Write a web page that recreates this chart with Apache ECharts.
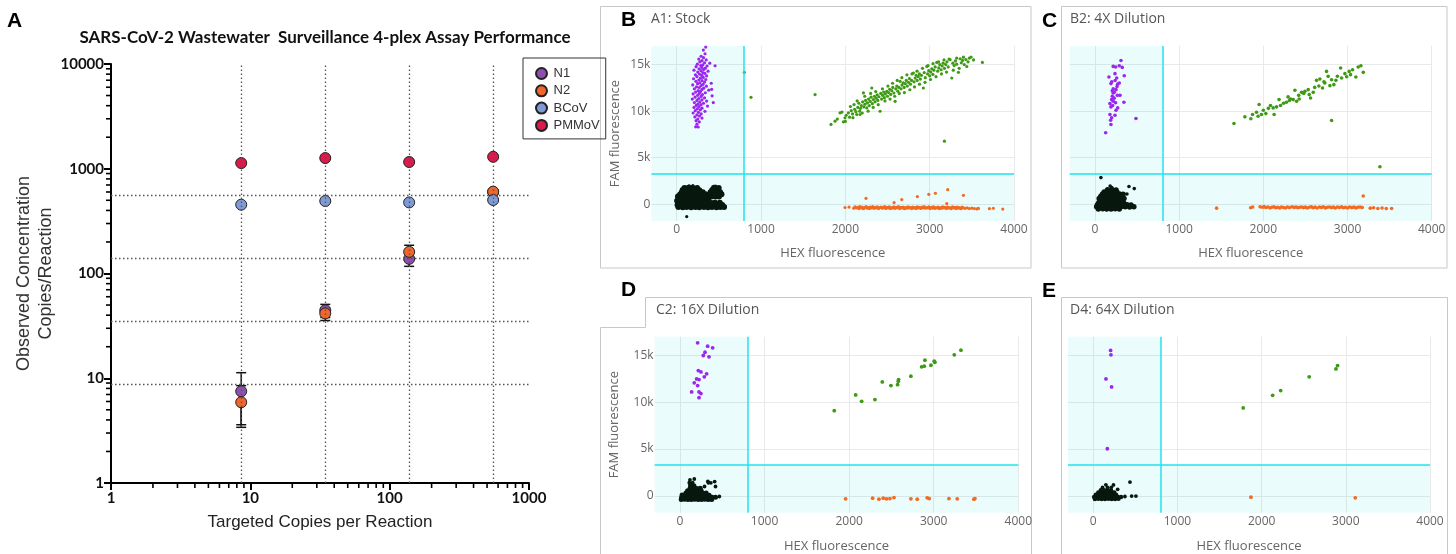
<!DOCTYPE html>
<html>
<head>
<meta charset="utf-8">
<script src="https://cdn.jsdelivr.net/npm/echarts@6/dist/echarts.min.js"></script>
<style>html,body{margin:0;padding:0;background:#fff}#c{width:1456px;height:554px}</style>
</head>
<body>
<div id="c"></div>
<script>
// ---------- Panel A data ----------
const targetCopies = [8.6, 34.5, 138, 553];
const idealLines = [8.7, 34.8, 140, 553];
const n1Obs = [7.5, 44.5, 138, 600];
const n2Obs = [5.9, 41.6, 161, 604];
const bcovObs = [454, 492, 477, 503];
const pmmovObs = [1133, 1265, 1160, 1300];
const n1Err = [[3.6, 11.3], [38, 50.7], [117, 160], [575, 625]];
const n2Err = [[3.4, 8.5], [35.6, 47], [140, 186], [585, 628]];
const logMinorTicks = [2,3,4,5,6,7,8,9,20,30,40,50,60,70,80,90,200,300,400,500,600,700,800,900,2000,3000,4000,5000,6000,7000,8000,9000];

// ---------- droplet panel axes ----------
const hexTicks = [0, 1000, 2000, 3000, 4000];
const famTicks = [0, 5000, 10000, 15000];
const famTickLabels = ['0', '5k', '10k', '15k'];
const hexThreshold = 800;
const famThreshold = 3300;

// ---------- A1: Stock ----------
const stockNeg = [[20,-300],[72,-320],[118,-290],[171,-310],[222,-300],[268,-330],[322,-290],[371,-310],[418,-300],[472,-320],[518,-290],[562,-300],
[10,-80],[57,-60],[100,-90],[152,-70],[198,-80],[251,-60],[302,-90],[344,-70],[392,-80],[441,-60],[489,-90],[541,-70],
[25,150],[76,160],[124,140],[177,150],[224,160],[276,140],[321,150],[362,160],[411,140],[454,150],[511,160],
[5,380],[51,370],[102,390],[149,380],[201,370],[252,390],[296,380],[341,370],
[30,600],[81,610],[129,590],[182,600],[231,610],[279,590],[331,600],[376,610],
[15,830],[62,820],[111,840],[158,830],[212,820],[261,840],[309,830],[358,820],[412,840],[459,830],[501,820],
[40,1060],[91,1070],[139,1050],[192,1060],[241,1070],[289,1050],[346,1060],[394,1070],[446,1050],[489,1060],[531,1070],
[60,1290],[111,1300],[159,1280],[212,1290],[261,1300],[309,1280],[401,1290],[449,1300],[502,1280],
[71,1520],[122,1510],[169,1530],[221,1520],[268,1510],[421,1530],[469,1520],
[92,1750],[141,1760],[188,1740],[242,1750],[442,1760],[498,1740]];
const stockNegSparse = [[119,-1320],[148,1980],[192,2010],[461,1960],[530,1400],[575,-250],[350,1200]];
const stockFam = [[344,16880],[316,16560],[336,16170],[290,15900],[318,15750],[262,15600],[350,15500],[300,15420],[275,15300],[330,15200],[392,15150],[245,15050],[310,14980],[285,14900],[360,14850],[230,14780],[298,14700],[340,14620],[265,14550],[320,14480],[205,14400],[288,14350],[372,14300],[250,14200],[310,14150],[335,14050],[270,13980],[222,13900],[298,13850],[355,13780],[240,13700],[315,13620],[282,13550],[200,13480],[345,13400],[262,13350],[300,13280],[228,13200],[330,13120],[275,13050],[410,13000],[248,12950],[312,12880],[190,12820],[290,12750],[352,12680],[235,12600],[268,12540],[320,12470],[210,12400],[300,12330],[380,12250],[255,12200],[282,12120],[225,12050],[340,11980],[268,11900],[195,11850],[305,11780],[248,11700],[420,11650],[290,11580],[218,11500],[330,11430],[262,11360],[185,11300],[300,11220],[240,11150],[355,11080],[275,11000],[210,10920],[318,10850],[252,10780],[288,10700],[232,10620],[365,10550],[265,10480],[205,10400],[300,10320],[245,10250],[280,10150],[220,10050],[335,9980],[258,9880],[195,9800],[290,9700],[240,9600],[270,9480],[215,9380],[300,9260],[250,9150],[230,8980],[268,8850],[240,8600],[225,8320],[255,8300],[455,14880],[434,10920],[415,12350]];
const stockDouble = [[1830,8570],[1878,8920],[1905,9150],[1937,9820],[1977,8850],[1996,9280],[2010,9560],[2036,9820],[2050,9350],[2070,10050],[2085,9700],[2103,10710],[2110,10200],[2125,9950],[2135,9640],[2148,10400],[2160,10850],[2174,9640],[2180,10300],[2190,10600],[2205,11000],[2214,11960],[2220,10450],[2232,10750],[2240,11150],[2254,10350],[2262,10900],[2275,11300],[2283,10600],[2295,11050],[2305,11500],[2313,12490],[2320,10800],[2332,11250],[2345,11600],[2352,11000],[2365,11400],[2378,11750],[2385,11150],[2398,11550],[2412,9990],[2420,11900],[2430,11300],[2442,11700],[2455,12050],[2462,11450],[2475,11850],[2491,12130],[2500,11600],[2512,12000],[2525,12350],[2538,11800],[2550,12200],[2562,12550],[2575,11950],[2590,11060],[2598,12400],[2610,12700],[2622,12150],[2635,12550],[2649,13200],[2660,12400],[2672,12800],[2685,13050],[2698,12550],[2710,12950],[2722,13300],[2735,12700],[2748,13100],[2760,13500],[2772,12900],[2785,13300],[2807,14100],[2815,13150],[2828,13550],[2840,13850],[2852,13300],[2865,13700],[2878,14000],[2890,13450],[2902,13850],[2925,12490],[2935,14150],[2948,13600],[2966,14810],[2975,14000],[2988,14350],[3000,13800],[3012,14200],[3025,14550],[3038,13950],[3050,14400],[3065,14750],[3084,15240],[3095,14300],[3108,14650],[3120,15000],[3135,14450],[3148,14850],[3160,15150],[3175,14600],[3190,15000],[3205,15300],[3220,14750],[3242,15530],[3262,13560],[3275,15150],[3290,14900],[3305,15400],[3320,15050],[3341,14170],[3361,15630],[3375,15200],[3390,15450],[3410,15000],[3430,15550],[3455,15300],[3491,15810],[3625,15240],[1641,11780],[3175,6780],[802,14170],[881,11490],
[1960,9900],[2000,8900],[2060,10500],[2090,9300],[2140,11100],[2170,10000],[2200,9800],[2230,11600],[2270,10000],[2300,11900],[2330,10400],[2360,12100],[2390,10700],[2440,12400],[2470,11100],[2505,12700],[2530,11300],[2560,13000],[2585,11600],[2615,13300],[2640,11900],[2670,13600],[2700,12000],[2730,13900],[2765,12300],[2790,14000],[2820,12600],[2850,14300],[2880,12900],[2915,14600],[2945,13100],[2980,14900],[3010,13400],[3040,15100],[3075,13700],[3105,15300],[3140,14000],[3170,15500],[3200,14200],[3230,15600],[3280,14400],[3320,15700],[3350,14600],[3400,15800],[3440,14800],[3470,15700],[3520,15500]];
const stockHex = [[1996,-350],[2044,-300],[2100,-420],[2115,-280],[2130,-380],[2148,-330],[2160,-460],[2172,-250],[2185,-400],[2200,-320],[2215,-480],[2228,-360],[2245,-260],[2258,-420],[2270,-340],[2285,-470],[2298,-300],[2310,-390],[2325,-250],[2340,-440],[2352,-330],[2368,-400],[2380,-280],[2395,-460],[2410,-350],[2425,-300],[2438,-420],[2450,-370],[2465,-260],[2480,-450],[2492,-330],[2508,-390],[2520,-290],[2535,-470],[2548,-350],[2562,-410],[2575,-270],[2590,-440],[2602,-330],[2618,-380],[2630,-260],[2645,-460],[2660,-340],[2672,-400],[2688,-300],[2700,-480],[2715,-360],[2728,-420],[2742,-270],[2755,-390],[2770,-330],[2785,-460],[2798,-300],[2812,-410],[2825,-350],[2840,-470],[2852,-280],[2868,-400],[2880,-340],[2895,-450],[2908,-300],[2922,-380],[2935,-260],[2950,-430],[2962,-350],[2978,-400],[2990,-290],[3005,-470],[3018,-340],[3032,-410],[3045,-280],[3060,-450],[3072,-360],[3088,-400],[3100,-310],[3115,-480],[3128,-350],[3142,-420],[3155,-270],[3170,-390],[3185,-330],[3198,-460],[3212,-300],[3228,-410],[3240,-350],[3255,-480],[3270,-290],[3285,-400],[3298,-340],[3312,-460],[3325,-310],[3340,-420],[3355,-360],[3370,-480],[3385,-300],[3400,-400],[3420,-440],[3445,-380],[3470,-470],[3500,-420],[3530,-460],[3560,-500],[3578,-450],[3708,-480],[3755,-430],[3867,-520],[2245,640],[2578,180],[2669,500],[2854,820],[2989,1070],[3068,1180],[3214,1570],[3400,960],[3203,70]];

// ---------- B2: 4X Dilution ----------
const dil4Neg = [[40,-500],[92,-490],[139,-510],[191,-500],[240,-490],[289,-510],
[20,-280],[66,-270],[111,-290],[160,-280],[209,-270],[261,-290],[310,-280],[359,-270],[411,-290],[462,-280],
[30,-60],[81,-50],[129,-70],[180,-60],[231,-50],[279,-70],[330,-60],[381,-50],[428,-70],
[45,170],[96,180],[144,160],[195,170],[246,180],[294,160],[340,170],
[60,400],[111,410],[159,390],[210,400],[261,410],[309,390],
[50,630],[101,640],[149,620],[200,630],[251,640],[299,620],[345,630],
[70,860],[121,870],[169,850],[220,860],[271,870],[319,850],
[90,1090],[141,1100],[189,1080],[240,1090],[291,1100],[334,1080],
[110,1320],[161,1330],[209,1310],[260,1320],
[150,1550],[201,1560],[250,1540]];
const dil4NegSparse = [[71,2860],[404,1900],[467,1680],[200,1800],[180,1950],[380,1100]];
const dil4Fam = [[309,15450],[217,14810],[246,14740],[289,14880],[324,14700],[166,13670],[238,14030],[258,13560],[348,13810],[289,13030],[190,12960],[217,12390],[206,12200],[230,12020],[250,12310],[266,11700],[297,11700],[206,11600],[198,11240],[217,11060],[178,10810],[344,10950],[210,10600],[190,10460],[270,10350],[178,9640],[238,9560],[198,9280],[186,9030],[487,9210],[190,8570],[127,7680],[240,13300],[262,12650],[228,11400],[250,10100],[270,12900],[215,11950],[245,10900],[200,13150]];
const dil4Double = [[1651,8670],[1781,9390],[1852,9180],[1872,9640],[1919,9890],[1950,10710],[1938,9460],[1978,9640],[2030,9740],[2085,10600],[2117,10350],[2157,10460],[2128,9640],[2204,10600],[2187,11240],[2274,10950],[2294,11530],[2323,11310],[2355,11240],[2375,12240],[2395,11060],[2426,11310],[2454,12020],[2494,12130],[2533,12310],[2545,11780],[2561,11420],[2593,12020],[2632,13310],[2672,13460],[2703,12490],[2731,13030],[2751,14270],[2770,13740],[2791,12740],[2811,13380],[2838,12850],[2811,8990],[2862,13310],[2918,14640],[2930,13560],[2969,14030],[3020,14270],[3036,13920],[3099,13670],[3127,14740],[3159,14880],[3187,14170],[3385,4030],[2000,10100],[2060,10300],[2240,10850],[2310,11150],[2420,11700],[2480,11900],[2610,12550],[2660,12700],[2720,13150],[2880,13750],[2990,13700],[3060,14450]];
const dil4Hex = [[1445,-420],[1849,-380],[1874,-300],[1961,-280],[1990,-320],[2010,-260],[2030,-350],[2055,-300],[2080,-400],[2100,-330],[2125,-280],[2148,-380],[2170,-320],[2195,-410],[2215,-290],[2240,-350],[2262,-400],[2285,-300],[2310,-360],[2340,-280],[2368,-340],[2390,-300],[2410,-380],[2432,-320],[2455,-290],[2478,-360],[2500,-310],[2522,-400],[2545,-330],[2570,-280],[2592,-370],[2615,-310],[2640,-400],[2668,-300],[2690,-350],[2712,-280],[2738,-390],[2760,-320],[2785,-290],[2810,-360],[2832,-310],[2855,-400],[2880,-300],[2905,-350],[2930,-280],[2952,-380],[2975,-330],[3000,-400],[3025,-300],[3050,-360],[3075,-310],[3100,-390],[3125,-320],[3150,-290],[3175,-350],[3270,-420],[3310,-380],[3360,-450],[3410,-400],[3460,-470],[3524,-460],[3187,890]];

// ---------- C2: 16X Dilution ----------
const dil16Neg = [[15,-380],[55,-370],[95,-390],[135,-380],[175,-370],[215,-390],[255,-380],[295,-370],[335,-390],[375,-380],
[20,-150],[60,-140],[100,-160],[140,-150],[180,-140],[220,-160],[260,-150],[300,-140],[340,-160],[380,-150],[420,-140],
[25,80],[65,90],[105,70],[145,80],[185,90],[225,70],[265,80],[305,90],[345,70],
[70,310],[110,320],[150,300],[190,310],[230,320],[270,300],[310,310],
[90,540],[130,550],[170,530],[210,540],[250,550],
[120,800],[160,810],[200,790],[240,800],
[125,1100],[165,1090]];
const dil16NegSparse = [[110,1400],[150,1410],[335,1400],[365,1390],[118,1700],[169,1800],[290,1000],[420,1000],[465,-70],[330,1550],[410,1520],[140,1250]];
const dil16Fam = [[209,16350],[327,15990],[386,15810],[296,15340],[276,14990],[343,14850],[217,13380],[248,13240],[315,13030],[288,12710],[197,12490],[225,12420],[169,12070],[209,11780],[138,11100],[225,11100],[248,10920],[225,10490]];
const dil16Double = [[1824,9100],[2077,10780],[2148,10100],[2305,10280],[2392,12170],[2494,11780],[2573,11880],[2581,12240],[2585,12420],[2730,12780],[2857,13780],[2888,13850],[2896,14490],[2967,13950],[3006,14380],[3014,14270],[3243,15060],[3322,15560]];
const dil16Hex = [[1958,-320],[2278,-250],[2352,-360],[2403,-250],[2443,-320],[2482,-290],[2530,-180],[2730,-320],[2805,-360],[2923,-210],[2947,-290],[3180,-290],[3278,-320],[3475,-360],[3487,-290]];

// ---------- D4: 64X Dilution ----------
const dil64Neg = [[20,-330],[60,-320],[100,-340],[140,-330],[180,-320],[220,-340],[260,-330],[300,-320],
[10,-110],[50,-100],[90,-120],[130,-110],[170,-100],[210,-120],[250,-110],[290,-100],[330,-120],
[30,120],[70,130],[110,110],[150,120],[190,130],[230,110],[270,120],
[60,360],[100,370],[140,350],[180,360],[220,370],[250,350],
[90,600],[130,610],[170,590],[210,600]];
const dil64NegSparse = [[110,900],[170,890],[215,910],[150,1180],[240,1170],[436,1470],[376,-70],[456,-20],[507,-20],[290,700]];
const dil64Fam = [[206,15530],[210,15060],[151,12490],[218,11640],[167,5030]];
const dil64Double = [[1781,9390],[2131,10740],[2226,11240],[2565,12710],[2883,13560],[2902,13920]];
const dil64Hex = [[1873,-140],[3112,-210]];

// ---------- colours ----------
const cN1 = '#8f4fae', cN2 = '#f0652b', cBCoV = '#7e9bd6', cPMMoV = '#dc1a4c';
const cNeg = '#08180f', cFam = '#9b26f0', cDouble = '#3e9a14', cHex = '#f26b22';

const chart = echarts.init(document.getElementById('c'), null, {renderer: 'canvas'});

const panels = [
  {grid: {left: 651.4, top: 46, width: 362.6, height: 175}, data: [stockNeg, stockNegSparse, stockFam, stockDouble, stockHex], showY: true, negSize: 6, dotSize: 3.2, xGap: 26, yGap: 30},
  {grid: {left: 1069.7, top: 46, width: 362, height: 175}, data: [dil4Neg, dil4NegSparse, dil4Fam, dil4Double, dil4Hex], showY: false, negSize: 5.5, dotSize: 3.6, xGap: 26, yGap: 30},
  {grid: {left: 654.6, top: 336.7, width: 363.7, height: 176}, data: [dil16Neg, dil16NegSparse, dil16Fam, dil16Double, dil16Hex], showY: true, negSize: 5, dotSize: 3.8, xGap: 27, yGap: 34},
  {grid: {left: 1068, top: 336.7, width: 362, height: 176}, data: [dil64Neg, dil64NegSparse, dil64Fam, dil64Double, dil64Hex], showY: false, negSize: 4.5, dotSize: 3.8, xGap: 27, yGap: 34}
];

const grids = [{left: 111, top: 64, width: 418, height: 419}];
const xAxes = [{
  gridIndex: 0, type: 'log', logBase: 10, min: 1, max: 1000,
  axisLine: {lineStyle: {color: '#000', width: 2}},
  axisTick: {length: 7, lineStyle: {color: '#000', width: 2}},
  axisLabel: {fontFamily: 'Lato', fontWeight: 'bold', fontSize: 15, color: '#111', margin: 8, formatter: v => String(Math.round(v))},
  splitLine: {show: false},
  name: 'Targeted Copies per Reaction', nameLocation: 'middle', nameGap: 31,
  nameTextStyle: {fontFamily: 'Liberation Sans', fontSize: 17, color: '#222'}
}];
const yAxes = [{
  gridIndex: 0, type: 'log', logBase: 10, min: 1, max: 10000,
  axisLine: {lineStyle: {color: '#000', width: 2}},
  axisTick: {length: 7, lineStyle: {color: '#000', width: 2}},
  axisLabel: {fontFamily: 'Lato', fontWeight: 'bold', fontSize: 15, color: '#111', margin: 7, formatter: v => String(Math.round(v))},
  splitLine: {show: false},
  name: 'Observed Concentration\nCopies/Reaction', nameLocation: 'middle', nameGap: 52, nameRotate: 90,
  nameTextStyle: {fontFamily: 'Liberation Sans', fontSize: 18, color: '#333', lineHeight: 22}
}];

const series = [];

// reference dotted lines
series.push({
  type: 'line', xAxisIndex: 0, yAxisIndex: 0, data: [], z: 1, silent: true,
  markLine: {
    silent: true, symbol: 'none', label: {show: false},
    lineStyle: {type: [1.5, 2.5], color: '#555', width: 1.3},
    emphasis: {disabled: true},
    data: targetCopies.map(v => ({xAxis: v})).concat(idealLines.map(v => ({yAxis: v})))
  }
});

// minor ticks on log axes
const minorData = [];
logMinorTicks.forEach(v => { if (v < 1000) minorData.push([v, 1, 0]); minorData.push([1, v, 1]); });
series.push({
  type: 'custom', xAxisIndex: 0, yAxisIndex: 0, clip: false, silent: true, z: 5,
  data: minorData,
  renderItem: (params, api) => {
    const p = api.coord([api.value(0), api.value(1)]);
    const isY = api.value(2) === 1;
    return {type: 'line', shape: isY ? {x1: p[0] - 1, y1: p[1], x2: p[0] - 5, y2: p[1]} : {x1: p[0], y1: p[1] + 1, x2: p[0], y2: p[1] + 5},
      style: {stroke: '#000', lineWidth: 1.6}};
  }
});

// error bars
const errData = [];
targetCopies.forEach((x, i) => { errData.push([x, n1Err[i][0], n1Err[i][1]]); errData.push([x, n2Err[i][0], n2Err[i][1]]); });
series.push({
  type: 'custom', xAxisIndex: 0, yAxisIndex: 0, silent: true, z: 2,
  data: errData,
  renderItem: (params, api) => {
    const lo = api.coord([api.value(0), api.value(1)]);
    const hi = api.coord([api.value(0), api.value(2)]);
    const st = {stroke: '#111', lineWidth: 1.5};
    return {type: 'group', children: [
      {type: 'line', shape: {x1: lo[0], y1: lo[1], x2: hi[0], y2: hi[1]}, style: st},
      {type: 'line', shape: {x1: lo[0] - 5, y1: lo[1], x2: lo[0] + 5, y2: lo[1]}, style: st},
      {type: 'line', shape: {x1: hi[0] - 5, y1: hi[1], x2: hi[0] + 5, y2: hi[1]}, style: st}
    ]};
  }
});

[['N1', n1Obs, cN1], ['N2', n2Obs, cN2], ['BCoV', bcovObs, cBCoV], ['PMMoV', pmmovObs, cPMMoV]].forEach(([name, obs, col]) => {
  series.push({
    name, type: 'scatter', xAxisIndex: 0, yAxisIndex: 0, z: 3,
    symbol: 'circle', symbolSize: 11,
    itemStyle: {color: col, borderColor: '#222', borderWidth: 1, opacity: 1},
    data: targetCopies.map((x, i) => [x, obs[i]])
  });
});

const axisFont = {fontFamily: 'Open Sans', fontSize: 12, color: '#666'};
panels.forEach((p, k) => {
  const gi = k + 1;
  grids.push(p.grid);
  xAxes.push({
    gridIndex: gi, type: 'value', min: -300, max: 4000,
    axisLine: {show: false}, axisTick: {show: false, customValues: hexTicks},
    axisLabel: Object.assign({customValues: hexTicks, margin: 3, formatter: v => String(v)}, axisFont),
    splitLine: {lineStyle: {color: '#e9e9e9', width: 1}},
    name: 'HEX fluorescence', nameLocation: 'middle', nameGap: p.xGap,
    nameTextStyle: {fontFamily: 'Open Sans', fontSize: 13, color: '#666'}
  });
  yAxes.push({
    gridIndex: gi, type: 'value', min: -1800, max: 17000,
    axisLine: {show: false}, axisTick: {show: false, customValues: famTicks},
    axisLabel: Object.assign({show: p.showY, customValues: famTicks, margin: 1, formatter: v => famTickLabels[famTicks.indexOf(v)]}, axisFont),
    splitLine: {lineStyle: {color: '#e9e9e9', width: 1}},
    name: p.showY ? 'FAM fluorescence' : '', nameLocation: 'middle', nameGap: p.yGap,
    nameTextStyle: {fontFamily: 'Open Sans', fontSize: 13, color: '#666'}
  });
  const [neg, negSparse, fam, dbl, hex] = p.data;
  series.push({
    type: 'scatter', xAxisIndex: gi, yAxisIndex: gi, z: 2, silent: true,
    symbolSize: p.negSize, itemStyle: {color: cNeg, opacity: 1}, data: neg,
    markArea: {
      silent: true, itemStyle: {color: 'rgba(0,215,225,0.08)'},
      data: [
        [{xAxis: -300, yAxis: -1800}, {xAxis: hexThreshold, yAxis: 17000}],
        [{xAxis: hexThreshold, yAxis: -1800}, {xAxis: 4000, yAxis: famThreshold}]
      ]
    },
    markLine: {
      silent: true, symbol: 'none', label: {show: false}, emphasis: {disabled: true},
      lineStyle: {color: '#22e2ee', width: 1.5, type: 'solid'},
      data: [{xAxis: hexThreshold}, {yAxis: famThreshold}]
    }
  });
  [[negSparse, cNeg], [fam, cFam], [dbl, cDouble], [hex, cHex]].forEach(([d, col]) => {
    series.push({type: 'scatter', xAxisIndex: gi, yAxisIndex: gi, z: 3, silent: true,
      symbolSize: p.dotSize, itemStyle: {color: col, opacity: 1}, data: d});
  });
});

const letter = (t, x, y) => ({type: 'text', left: x, top: y, style: {text: t, fontFamily: 'Liberation Sans', fontWeight: 'bold', fontSize: 21, fill: '#000'}});
const ptitle = (t, x, y) => ({type: 'text', left: x, top: y, style: {text: t, fontFamily: 'Open Sans', fontSize: 14, fill: '#555'}});

const option = {
  backgroundColor: '#fff',
  animation: false,
  title: {
    text: 'SARS-CoV-2 Wastewater  Surveillance 4-plex Assay Performance',
    left: 320, top: 24, textAlign: 'center',
    textStyle: {fontFamily: 'Lato', fontWeight: 'bold', fontSize: 17, color: '#111'}
  },
  legend: {
    data: ['N1', 'N2', 'BCoV', 'PMMoV'],
    orient: 'vertical', left: 523, top: 58,
    borderColor: '#333', borderWidth: 1, borderRadius: 0,
    padding: [9, 6, 7, 12], itemGap: 4.3,
    itemWidth: 14, itemHeight: 11, icon: 'circle',
    textStyle: {fontFamily: 'Liberation Sans', fontSize: 13, color: '#333'},
    selectedMode: false
  },
  grid: grids, xAxis: xAxes, yAxis: yAxes, series,
  graphic: [
    letter('A', 7, 11),
    letter('B', 621, 10),
    letter('C', 1042, 11),
    letter('D', 621, 280),
    letter('E', 1042, 281),
    ptitle('A1: Stock', 651, 12),
    ptitle('B2: 4X Dilution', 1070, 12),
    ptitle('C2: 16X Dilution', 656, 303),
    ptitle('D4: 64X Dilution', 1070, 303),
    {type: 'rect', shape: {x: 600.5, y: 6.5, width: 430.5, height: 261.5}, style: {fill: 'none', stroke: '#c8c8c8', lineWidth: 1}},
    {type: 'rect', shape: {x: 1061.5, y: 6.5, width: 385.5, height: 261.5}, style: {fill: 'none', stroke: '#c8c8c8', lineWidth: 1}},
    {type: 'polyline', shape: {points: [[600.5, 560], [600.5, 327.5], [645.5, 327.5], [645.5, 297.5], [1031.5, 297.5], [1031.5, 560]]}, style: {fill: 'none', stroke: '#c8c8c8', lineWidth: 1}},
    {type: 'polyline', shape: {points: [[1061.5, 560], [1061.5, 297.5], [1447.5, 297.5], [1447.5, 560]]}, style: {fill: 'none', stroke: '#c8c8c8', lineWidth: 1}}
  ]
};
chart.setOption(option);
</script>
</body>
</html>
